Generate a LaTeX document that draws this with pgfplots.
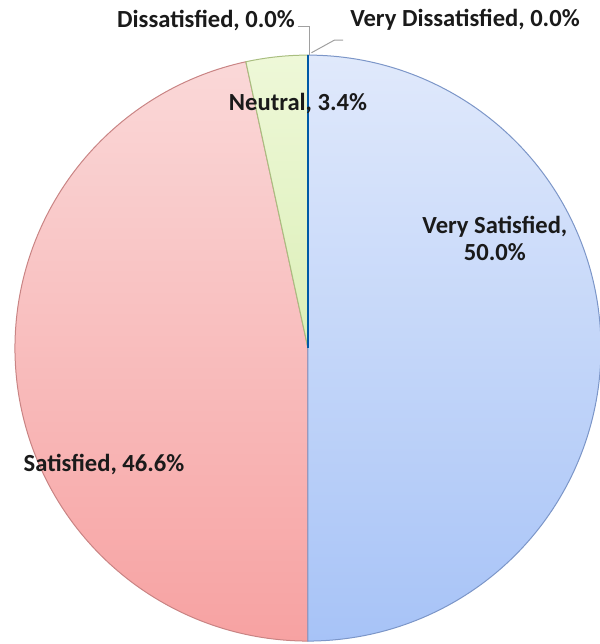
\documentclass[border=0pt]{standalone}
\usepackage{pgfplots}
\pgfplotsset{compat=1.18}
\usepackage{pgfplotstable}
\usepackage{fontspec}
\setmainfont{Carlito}

\pgfplotstableread{
label value
VerySatisfied 50.0
Satisfied 46.6
Neutral 3.4
Dissatisfied 0.0
VeryDissatisfied 0.0
}\piedata

\pgfplotstablegetelem{0}{value}\of\piedata \let\vA\pgfplotsretval
\pgfplotstablegetelem{1}{value}\of\piedata \let\vB\pgfplotsretval
\pgfplotstablegetelem{2}{value}\of\piedata \let\vC\pgfplotsretval
\pgfmathsetmacro\aA{90}
\pgfmathsetmacro\aB{\aA-3.6*\vA}
\pgfmathsetmacro\aC{\aB-3.6*\vB}
\pgfmathsetmacro\aD{\aC-3.6*\vC}

\definecolor{vsTop}{HTML}{E0E9FB}
\definecolor{vsBot}{HTML}{A7C3F7}
\definecolor{vsEdge}{HTML}{7C96C8}
\definecolor{sTop}{HTML}{FAD8D8}
\definecolor{sBot}{HTML}{F7A2A2}
\definecolor{sEdge}{HTML}{C98484}
\definecolor{nTop}{HTML}{EEF8D8}
\definecolor{nBot}{HTML}{DCEFB8}
\definecolor{nEdge}{HTML}{A9BE80}
\definecolor{lead}{HTML}{A0A0A0}
\definecolor{txt}{HTML}{1A1A1A}

\begin{document}
\begin{tikzpicture}
\begin{axis}[
  scale only axis, width=300pt, height=322pt,
  xmin=-1.051, xmax=0.9966, ymin=-1.010, ymax=1.188,
  hide axis, clip=false,
]
\addplot[draw=sEdge, line width=0.5pt, top color=sTop, bottom color=sBot, domain=\aC:\aB, samples=150, variable=\t]
  ({cos(\t)},{sin(\t)}) -- (axis cs:0,0) -- cycle;
\addplot[draw=nEdge, line width=0.5pt, top color=nTop, bottom color=nBot, domain=\aD:\aC, samples=10, variable=\t]
  ({cos(\t)},{sin(\t)}) -- (axis cs:0,0) -- cycle;
\addplot[draw=vsEdge, line width=0.5pt, top color=vsTop, bottom color=vsBot, domain=\aB:\aA, samples=150, variable=\t]
  ({cos(\t)},{sin(\t)}) -- (axis cs:0,0) -- cycle;
\addplot[draw=teal!70!blue, line width=0.6pt] coordinates {(0,0) (0,1)};
% leader lines
\addplot[draw=lead, line width=0.5pt] coordinates {(-0.035,1.096) (0.004,1.096) (0.004,1.0)};
\addplot[draw=lead, line width=0.5pt] coordinates {(0.012,1.008) (0.09,1.051) (0.12,1.051)};
% labels
\node[font=\fontsize{12.3}{14}\selectfont\bfseries, text=txt] at (axis cs:-0.348,1.119) {Dissatisfied, 0.0\%};
\node[font=\fontsize{12.3}{14}\selectfont\bfseries, text=txt] at (axis cs:0.536,1.119) {Very Dissatisfied, 0.0\%};
\node[font=\fontsize{12.3}{14}\selectfont\bfseries, text=txt] at (axis cs:-0.034,0.836) {Neutral, 3.4\%};
\node[font=\fontsize{12.3}{13.5}\selectfont\bfseries, text=txt, align=center] at (axis cs:0.638,0.374) {Very Satisfied,\\50.0\%};
\node[font=\fontsize{12.3}{14}\selectfont\bfseries, text=txt] at (axis cs:-0.696,-0.396) {Satisfied, 46.6\%};
\end{axis}
\pgfresetboundingbox
\path[use as bounding box] (current axis.south west) rectangle (current axis.north east);
\end{tikzpicture}
\end{document}
